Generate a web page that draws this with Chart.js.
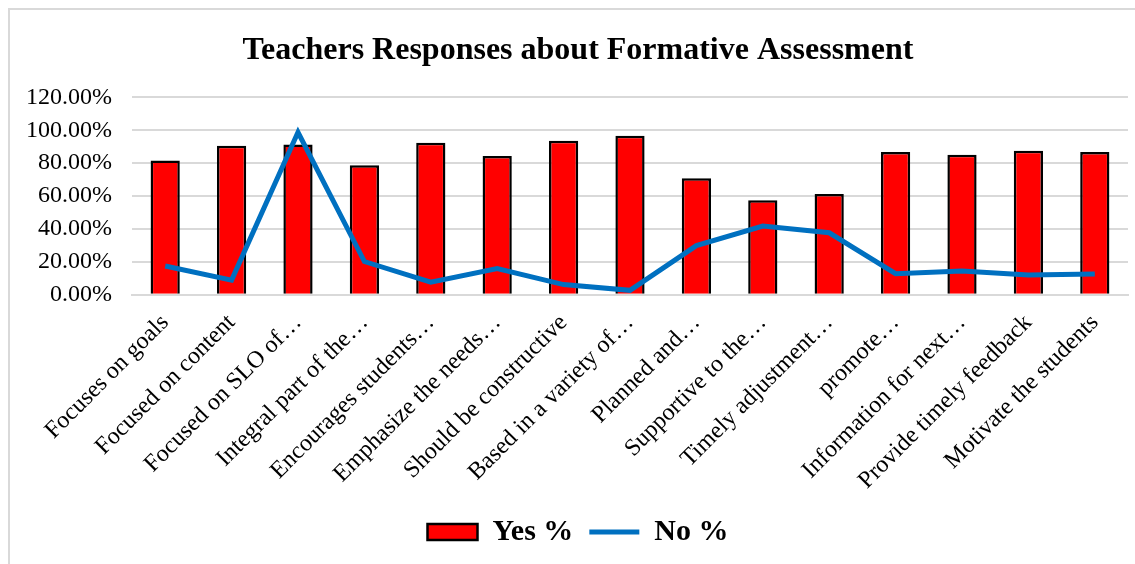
<!DOCTYPE html>
<html>
<head>
<meta charset="utf-8">
<script src="https://cdn.jsdelivr.net/npm/chart.js@4/dist/chart.umd.min.js"></script>
<style>
  html, body { margin: 0; padding: 0; background: #fff; overflow: hidden; }
  #box { position: absolute; left: 8px; top: 8px; width: 1140px; height: 560px; border: 2px solid #d9d9d9; }
</style>
</head>
<body>
<div id="box"><canvas id="formativeChart"></canvas></div>
<script>
const categories = [
  'Focuses on goals',
  'Focused on content',
  'Focused on SLO of\u2026',
  'Integral part of the\u2026',
  'Encourages students\u2026',
  'Emphasize the needs\u2026',
  'Should be constructive',
  'Based in a variety of\u2026',
  'Planned and\u2026',
  'Supportive to the\u2026',
  'Timely adjustment\u2026',
  'promote\u2026',
  'Information for next\u2026',
  'Provide timely feedback',
  'Motivate the students'
];
const yesPercent = [81.7, 90.6, 91.4, 78.8, 92.4, 84.4, 93.6, 96.7, 70.8, 57.4, 61.3, 86.8, 85.2, 87.5, 86.8];
const noPercent = [17.5, 8.9, 98.8, 20.2, 7.6, 15.9, 6.2, 2.7, 29.9, 41.8, 37.7, 12.8, 14.4, 12.0, 12.6];
const yTicks = [0, 20, 40, 60, 80, 100, 120];

const serif = '"Liberation Serif", "Times New Roman", serif';
const formativeChart = document.getElementById('formativeChart');

// nudge title and legend to the right, as in the original picture
const shiftBlocks = {
  id: 'shiftBlocks',
  afterLayout(chart) {
    [chart.titleBlock, chart.legend].forEach(b => {
      if (b) { b.left += 11; b.right += 11; }
    });
  }
};

new Chart(formativeChart, {
  type: 'bar',
  data: {
    labels: categories,
    datasets: [{
      label: 'Yes %',
      data: yesPercent,
      backgroundColor: '#ff0000',
      borderColor: '#000000',
      borderWidth: 2.5,
      barPercentage: 0.44,
      categoryPercentage: 1,
      pointStyle: 'rect',
      order: 2
    }, {
      type: 'line',
      label: 'No %',
      data: noPercent,
      borderColor: '#0070c0',
      backgroundColor: '#0070c0',
      borderWidth: 5,
      pointRadius: 0,
      tension: 0,
      pointStyle: 'line',
      order: 1
    }]
  },
  plugins: [shiftBlocks],
  options: {
    responsive: true,
    maintainAspectRatio: false,
    animation: false,
    layout: { padding: { top: 0, left: -4, right: 22, bottom: 13 } },
    plugins: {
      title: {
        display: true,
        text: 'Teachers Responses about Formative Assessment',
        color: '#000',
        font: { family: serif, size: 32, weight: 'bold' },
        padding: { top: 22, bottom: 27 }
      },
      legend: {
        position: 'bottom',
        labels: {
          color: '#000',
          font: { family: serif, size: 30, weight: 'bold' },
          usePointStyle: true,
          pointStyleWidth: 50,
          boxHeight: 16,
          padding: 16,
          sort: (a, b) => a.datasetIndex - b.datasetIndex
        }
      },
      tooltip: { enabled: false }
    },
    scales: {
      x: {
        grid: { display: false },
        border: { color: '#d9d9d9', width: 2 },
        afterFit: axis => { axis.paddingLeft = 0; axis.paddingRight = 0; },
        ticks: {
          color: '#000',
          padding: 6,
          font: { family: serif, size: 24 },
          minRotation: 45,
          maxRotation: 45,
          autoSkip: false
        }
      },
      y: {
        min: 0,
        max: 120,
        afterBuildTicks: axis => { axis.ticks = yTicks.map(v => ({ value: v })); },
        grid: { color: '#d9d9d9', lineWidth: 2, drawTicks: false },
        border: { display: false },
        ticks: {
          color: '#000',
          padding: 20,
          autoSkip: false,
          font: { family: serif, size: 24 },
          callback: v => v.toFixed(2) + '%'
        }
      }
    }
  }
});
</script>
</body>
</html>
